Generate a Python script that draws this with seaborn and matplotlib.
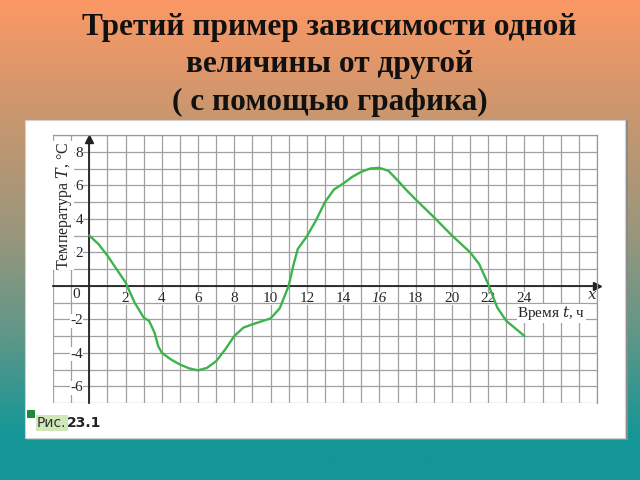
import numpy as np
import pandas as pd
import matplotlib
matplotlib.use('Agg')
import matplotlib.pyplot as plt
from matplotlib.colors import LinearSegmentedColormap
from matplotlib.patches import Rectangle
import seaborn as sns

# data: time (hours) and temperature
hours = [0, 0.5, 1, 1.5, 2, 2.5, 3, 3.3, 3.6, 3.8, 4, 4.5, 5, 5.5, 6, 6.5, 7, 7.5, 8,
         8.5, 9, 10, 10.5, 11, 11.25, 11.5, 12, 12.5, 13, 13.5, 14, 14.5, 15, 15.5,
         16, 16.5, 17, 17.5, 18, 19, 20, 21, 21.5, 22, 22.5, 23, 24]
temps = [3.0, 2.5, 1.8, 1.0, 0.2, -1.0, -1.9, -2.1, -2.8, -3.6, -4.0, -4.4, -4.7, -4.93,
         -5.05, -4.9, -4.5, -3.8, -3.0, -2.5, -2.3, -1.95, -1.35, 0.0, 1.2, 2.2, 2.95,
         3.9, 5.0, 5.75, 6.1, 6.5, 6.8, 7.0, 7.04, 6.86, 6.3, 5.7, 5.15, 4.1, 3.0, 2.0,
         1.3, 0.1, -1.3, -2.1, -3.0]

x_labels = [2, 4, 6, 8, 10, 12, 14, 16, 18, 20, 22, 24]
y_labels = [-6, -4, -2, 2, 4, 6, 8]

title = 'Третий пример зависимости одной\nвеличины от другой\n( с помощью графика)'

df = pd.DataFrame({'t': hours, 'T': temps})

sns.set_style('white')
plt.rcParams['font.family'] = ['Liberation Serif', 'DejaVu Serif']
plt.rcParams['mathtext.fontset'] = 'dejavuserif'

fig = plt.figure(figsize=(6.4, 4.8), dpi=100)

# =============================================================================
# gradient background
# =============================================================================
bg = fig.add_axes([0, 0, 1, 1], zorder=-10)
cmap = LinearSegmentedColormap.from_list('bg', [
    (0.0, (252/255, 152/255, 100/255)),
    (0.27, (195/255, 150/255, 112/255)),
    (0.5, (150/255, 150/255, 125/255)),
    (0.7, (95/255, 150/255, 136/255)),
    (0.9, (22/255, 150/255, 150/255)),
    (1.0, (20/255, 150/255, 150/255))])
grad = np.linspace(0, 1, 256).reshape(-1, 1)
bg.imshow(grad, aspect='auto', cmap=cmap, extent=[0, 1, 0, 1], origin='upper')
bg.set_axis_off()

fig.text(0.515, 0.973, title, ha='center', va='top', fontsize=22.5,
         fontweight='bold', linespacing=1.38, color='#111111')

# white panel with grey shadow edge
fig.patches.append(Rectangle((27 / 640, 1 - 440 / 480), 601 / 640, 320 / 480,
                             transform=fig.transFigure, fc='#8a8a8a', ec='none', zorder=-5))
fig.patches.append(Rectangle((25 / 640, 1 - 438 / 480), 600 / 640, 318 / 480,
                             transform=fig.transFigure, fc='white', ec='#d0d0d0',
                             lw=0.8, zorder=-4))

# =============================================================================
# chart
# =============================================================================
ax = fig.add_axes([53 / 640, 1 - 403 / 480, 544 / 640, 268 / 480])
ax.set_xlim(-2, 28)
ax.set_ylim(-7, 9)
ax.set_facecolor('none')

ax.spines['left'].set_position(('data', 0))
ax.spines['bottom'].set_position(('data', 0))
ax.spines['left'].set_bounds(-7, 8.7)
ax.spines['bottom'].set_bounds(-2, 27.7)
for s in ['left', 'bottom']:
    ax.spines[s].set_linewidth(1.3)
    ax.spines[s].set_color('#222222')
    ax.spines[s].set_zorder(3)
for s in ['top', 'right']:
    ax.spines[s].set_color('#999999')
    ax.spines[s].set_linewidth(0.9)

ax.set_xticks(range(1, 25))
ax.set_xticklabels([str(v) if v in x_labels else '' for v in range(1, 25)])
ax.set_yticks(range(-6, 9))
ax.set_yticklabels([str(v) if v in y_labels else '' for v in range(-6, 9)])
ax.set_xticks(range(-2, 29), minor=True)
ax.set_yticks(range(-7, 10), minor=True)
ax.tick_params(which='major', direction='inout', length=7, width=1.2, color='#222222',
               labelsize=11, pad=1)
ax.tick_params(which='minor', length=0)
ax.grid(which='both', color='#a0a0a0', lw=0.9)
ax.set_axisbelow(True)
for lbl in ax.get_xticklabels() + ax.get_yticklabels():
    lbl.set_bbox(dict(fc='white', ec='none', pad=0.3))
for lbl in ax.get_xticklabels():
    if lbl.get_text() == '16':
        lbl.set_style('italic')

# axis arrows
ax.plot(1, 0, '>', color='#222222', ms=6, transform=ax.get_yaxis_transform(), clip_on=False)
ax.plot(0, 8.75, '^', color='#222222', ms=6, clip_on=False)

sns.lineplot(data=df, x='t', y='T', ax=ax, color='#3cb44b', lw=1.7, zorder=4)
ax.set_xlabel('')
ax.set_ylabel('')

ax.text(-0.5, -0.55, '0', ha='right', va='center', fontsize=11,
        bbox=dict(fc='white', ec='none', pad=0.3))
ax.text(27.75, -0.6, '$x$', ha='center', va='center', fontsize=11, color='#333333')
ax.text(23.6, -1.65, 'Время $t$, ч', ha='left', va='center', fontsize=11,
        bbox=dict(fc='white', ec='none', pad=0.3))
ax.text(-1.4, 4.8, 'Температура $T$, °C', rotation=90, ha='center', va='center',
        fontsize=11.5, bbox=dict(fc='white', ec='none', pad=0.3))

# caption
fig.patches.append(Rectangle((27 / 640, 1 - 418 / 480), 8 / 640, 8 / 480,
                             transform=fig.transFigure, fc='#1e8a3c', ec='none'))
fig.text(37 / 640, 1 - 423 / 480, 'Рис.', ha='left', va='center', fontsize=10,
         family=['DejaVu Sans'], color='#333333',
         bbox=dict(fc='#cfe8b8', ec='none', pad=1))
fig.text(67 / 640, 1 - 423 / 480, '23.1', ha='left', va='center', fontsize=10,
         family=['DejaVu Sans'], fontweight='bold', color='#222222')

fig.savefig('out.png', dpi=100)
